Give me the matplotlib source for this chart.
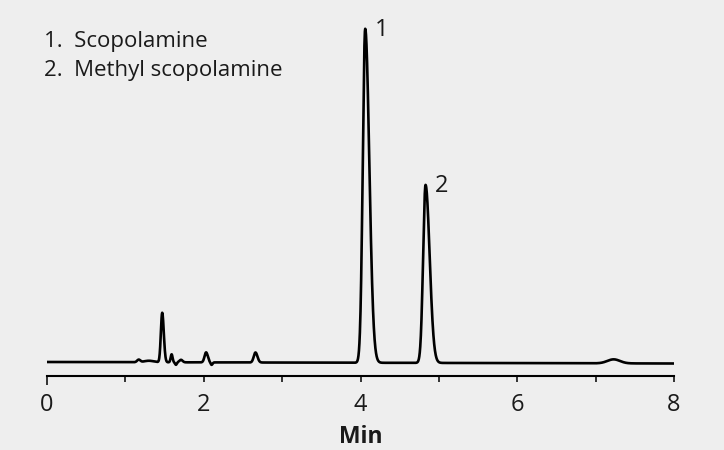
import matplotlib
matplotlib.use("Agg")
import matplotlib.pyplot as plt
import numpy as np

# Peak table (retention time in min, height in detector units)
retention_times = [1.17, 1.30, 1.47, 1.59, 1.645, 1.71, 2.03, 2.10, 2.66, 4.06, 4.83, 7.23]
peak_heights = [2.5, 1.5, 49.5, 8.0, -2.5, 2.5, 10.0, -2.5, 10.0, 334.0, 178.0, 4.0]
sigma_left = [0.02, 0.06, 0.017, 0.012, 0.010, 0.020, 0.020, 0.012, 0.022, 0.031, 0.031, 0.08]
sigma_right = [0.02, 0.06, 0.020, 0.012, 0.010, 0.020, 0.022, 0.012, 0.025, 0.052, 0.052, 0.08]
baseline_start, baseline_end = 0.0, -1.5

peak_labels = ["1", "2"]
labelled_peaks = [9, 10]
compounds = ["1.  Scopolamine", "2.  Methyl scopolamine"]

x_ticks = [0, 2, 4, 6, 8]
x_minor = [1, 3, 5, 7]

BG = "#eeeeee"
INK = "#1a1a1a"
FONT = ["Open Sans", "DejaVu Sans"]
plt.rcParams["font.family"] = FONT

# build trace from the peak table
t = np.linspace(0, 8, 4001)
signal = baseline_start + (baseline_end - baseline_start) * t / 8
for rt, h, sl, sr in zip(retention_times, peak_heights, sigma_left, sigma_right):
    s = np.where(t < rt, sl, sr)
    signal = signal + h * np.exp(-0.5 * ((t - rt) / s) ** 2)

fig = plt.figure(figsize=(7.24, 4.5), dpi=100, facecolor=BG)
ax = fig.add_axes([47 / 724, 1 - 376 / 450, 627 / 724, 356 / 450])
ax.set_facecolor(BG)

ax.plot(t, signal, color="black", lw=1.9, solid_joinstyle="round")

ax.set_xlim(0, 8)
ax.set_ylim(-14, 342)

for i, lab in zip(labelled_peaks, peak_labels):
    ax.text(retention_times[i] + 0.21, peak_heights[i] - 2, lab,
            fontsize=17, ha="center", va="center", color=INK)

for k, name in enumerate(compounds):
    fig.text(44 / 724, 1 - (46.7 + 29.5 * k) / 450, name, fontsize=16,
             ha="left", va="baseline", color=INK)

for side in ["left", "top", "right"]:
    ax.spines[side].set_visible(False)
ax.spines["bottom"].set_linewidth(1.5)
ax.set_yticks([])
ax.set_xticks(x_ticks)
ax.set_xticks(x_minor, minor=True)
ax.tick_params(axis="x", which="major", length=4, width=1.1, pad=8,
               labelsize=17, labelcolor=INK)
ax.tick_params(axis="x", which="minor", length=4, width=1.1)
# the tick at 0 is drawn longer in the original
ax.xaxis.get_major_ticks()[0].tick1line.set_markersize(6.5)
ax.set_xlabel("Min", fontsize=16.5, fontweight="bold", labelpad=6, color=INK)

fig.savefig("out.png", dpi=100, facecolor=BG)
